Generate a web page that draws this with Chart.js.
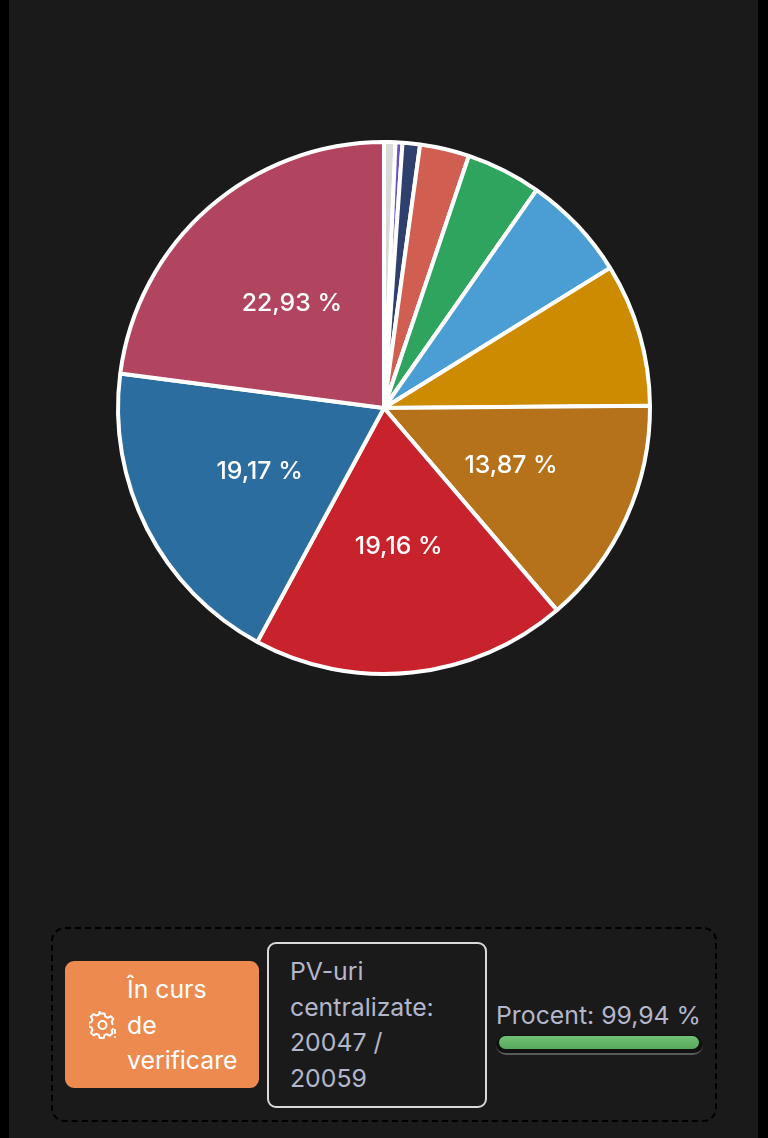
<!DOCTYPE html>
<html lang="ro">
<head>
<meta charset="utf-8">
<title>PV-uri centralizate</title>
<script src="https://cdn.jsdelivr.net/npm/chart.js@4"></script>
<style>
  html, body { margin: 0; padding: 0; background: #000; }
  body { width: 768px; height: 1138px; position: relative; overflow: hidden; font-family: Inter, sans-serif; }
  #page { position: absolute; left: 9px; top: 0; width: 749px; height: 1138px; background: #1a1a1a; }
  #chartWrap { position: absolute; left: 0; top: 0; width: 768px; height: 816px; }
  #panel { position: absolute; left: 51px; top: 927px; width: 662px; height: 191px; border: 2px dashed #000; border-radius: 14px; box-sizing: content-box; }
  .box { position: absolute; box-sizing: border-box; font-size: 24.8px; line-height: 35.5px; }
  #status { left: 65px; top: 961px; width: 194px; height: 127px; background: #ec8a4f; border-radius: 9px; color: #fff; }
  #status svg { position: absolute; left: 24px; top: 50px; }
  #status span { position: absolute; left: 62px; top: 11px; }
  #count { left: 267px; top: 942px; width: 220px; height: 166px; border: 2px solid #d9d9d9; border-radius: 9px; color: #b4b7cb; padding: 10px 0 0 21px; }
  #percent { left: 496px; top: 998px; width: 210px; color: #b4b7cb; white-space: nowrap; }
  #track { position: absolute; left: 496px; top: 1035px; width: 207px; height: 20px; border-radius: 10px; background: #111; border-bottom: 2px solid #5a5a5a; box-sizing: border-box; }
  #fill { position: absolute; left: 3px; top: 1px; height: 13px; border-radius: 7px; background: linear-gradient(#72c276, #57a85c); }
</style>
</head>
<body>
<div id="page"></div>
<div id="chartWrap"><canvas id="pieChart" width="768" height="816"></canvas></div>
<div id="panel"></div>
<div class="box" id="status">
  <svg width="28" height="28" viewBox="0 0 28 28" fill="none" stroke="#fff" stroke-width="2" stroke-linejoin="round" stroke-linecap="round">
    <path d="M11.500 2.500h4l.8 3.200 2.500 1.100 2.900-1.600 2.600 2.700-1.700 2.800 1 2.500"/>
    <path d="M24 18l-1.300 1.500.8 2.700-2.800 2.600-2.800-1.600-2.400 1-.8 2.800h-4l-.8-3.100-2.500-1.100-2.800 1.600-2.700-2.700 1.600-2.800-1-2.500-3-.8v-3.800l3-.8 1-2.500-1.600-2.800 2.700-2.700 2.800 1.600 2.500-1.100.8-3.200"/>
    <circle cx="13.500" cy="14" r="4"/>
    <path d="M26 19v3M26 26v.1"/>
  </svg>
  <span>În curs<br>de<br>verificare</span>
</div>
<div class="box" id="count">PV-uri<br>centralizate:<br>20047 /<br>20059</div>
<div class="box" id="percent">Procent: 99,94 %</div>
<div id="track"><div id="fill" style="width:200px"></div></div>

<script>
const categories = ["Altele", "Lista 1", "Lista 2", "Lista 3", "Lista 4", "Lista 5", "Lista 6", "Lista 7", "Lista 8", "Lista 9", "Lista 10"];
const shares = [0.69, 0.42, 1.06, 3.0, 4.55, 6.45, 8.7, 13.87, 19.16, 19.17, 22.93];
const sliceColors = ["#d9d9d9", "#6a4fc0", "#2f3f6e", "#d05f52", "#2ea45f", "#4a9ed3", "#cc8b00", "#b5721a", "#c8232c", "#2c6da0", "#b1445e"];
const labelMin = 10;

// percent text inside the big slices only
const sliceLabels = {
  id: "sliceLabels",
  afterDatasetsDraw(chart) {
    const ctx = chart.ctx;
    ctx.save();
    ctx.font = "500 24.8px Inter";
    ctx.fillStyle = "#fff";
    ctx.textAlign = "center";
    ctx.textBaseline = "middle";
    chart.getDatasetMeta(0).data.forEach((arc, i) => {
      if (shares[i] < labelMin) return;
      const mid = (arc.startAngle + arc.endAngle) / 2;
      const x = arc.x + Math.cos(mid) * arc.outerRadius * 0.525;
      const y = arc.y + Math.sin(mid) * arc.outerRadius * 0.525;
      ctx.fillText(shares[i].toFixed(2).replace(".", ",") + " %", x, y);
    });
    ctx.restore();
  },
};

new Chart(document.getElementById("pieChart").getContext("2d"), {
  type: "pie",
  data: {
    labels: categories,
    datasets: [
      {
        data: shares,
        backgroundColor: sliceColors,
        borderColor: "#fff",
        borderWidth: 4,
      },
    ],
  },
  options: {
    responsive: false,
    animation: false,
    layout: { padding: { left: 116, right: 116, top: 139, bottom: 139 } },
    plugins: {
      legend: { display: false },
      tooltip: { enabled: false },
    },
  },
  plugins: [sliceLabels],
});
</script>
</body>
</html>
